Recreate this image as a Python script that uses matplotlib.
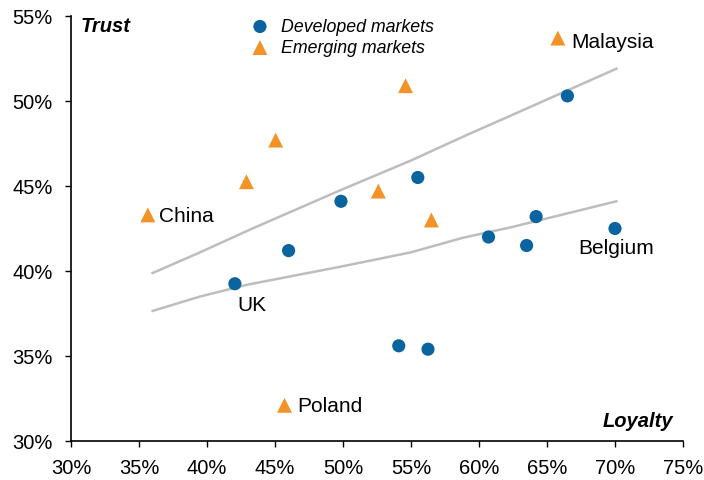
import matplotlib
matplotlib.use("Agg")
import matplotlib.pyplot as plt
from matplotlib.ticker import FuncFormatter

plt.rcParams['font.family'] = ['Liberation Sans', 'DejaVu Sans']

# Developed markets (loyalty %, trust %)
dev_x = [42.05, 46.0, 49.85, 55.5, 54.1, 56.25, 60.7, 63.5, 64.2, 66.5, 70.0]
dev_y = [39.25, 41.2, 44.1, 45.5, 35.6, 35.4, 42.0, 41.5, 43.2, 50.3, 42.5]

# Emerging markets
emg_x = [35.65, 42.9, 45.05, 45.7, 52.6, 54.6, 56.5, 65.8]
emg_y = [43.3, 45.25, 47.7, 32.1, 44.7, 50.9, 43.0, 53.7]

# Trend lines
up_x = [36.0, 39.5, 43.2, 49.8, 55.0, 59.1, 62.5, 70.1]
up_y = [39.88, 41.1, 42.45, 44.75, 46.5, 48.0, 49.2, 51.9]
lo_x = [36.0, 39.5, 43.0, 49.8, 55.0, 58.8, 62.5, 70.1]
lo_y = [37.65, 38.5, 39.2, 40.25, 41.1, 41.95, 42.6, 44.1]

# Country labels (baseline positions)
labels = ["China", "Malaysia", "Belgium", "UK", "Poland"]
label_x = [36.45, 66.8, 67.3, 42.2, 46.6]
label_y = [42.94, 53.18, 41.06, 37.71, 31.76]

blue = "#0a64a0"
orange = "#f39227"
gray = "#bdbdbd"

fig = plt.figure(figsize=(7.04, 4.81), dpi=100)
ax = fig.add_axes([71/704, 1-442/481, (683-71)/704, (442-17)/481])

ax.plot(up_x, up_y, color=gray, lw=1.8, zorder=1)
ax.plot(lo_x, lo_y, color=gray, lw=1.8, zorder=1)
h1 = ax.scatter(dev_x, dev_y, s=90, marker='o', color=blue, edgecolors='none', zorder=3,
                label="Developed markets")
h2 = ax.scatter(emg_x, emg_y, s=115, marker='^', color=orange, edgecolors='none', zorder=3,
                label="Emerging markets")

for t, x, y in zip(labels, label_x, label_y):
    ax.text(x, y, t, fontsize=15, va='baseline', ha='left', color='black')

ax.text(30.74, 54.12, "Trust", fontsize=14.5, fontweight='bold',
        fontstyle='italic', va='baseline', ha='left')
ax.text(0.984, 30.88, "Loyalty", transform=ax.get_yaxis_transform(), fontsize=14.5,
        fontweight='bold', fontstyle='italic', va='baseline', ha='right')

leg = ax.legend(handles=[h1, h2], loc='upper left', bbox_to_anchor=(0.2913, 0.995),
                frameon=False, prop={'style': 'italic', 'size': 12.8},
                handletextpad=0.58, labelspacing=0.23, borderaxespad=0, borderpad=0,
                handlelength=1.2, scatterpoints=1)

ax.set_xlim(30, 75)
ax.set_ylim(30, 55)
ax.set_xticks(range(30, 76, 5))
ax.set_yticks(range(30, 56, 5))
fmt = FuncFormatter(lambda v, p: f"{int(round(v))}%")
ax.xaxis.set_major_formatter(fmt)
ax.yaxis.set_major_formatter(fmt)
ax.tick_params(axis='both', labelsize=14.5, length=4, width=1, direction='out', color='black')
ax.tick_params(axis='x', pad=8.5)
ax.tick_params(axis='y', pad=9)
for s in ['top', 'right']:
    ax.spines[s].set_visible(False)
for s in ['left', 'bottom']:
    ax.spines[s].set_linewidth(1.2)

fig.savefig("out.png", dpi=100)
